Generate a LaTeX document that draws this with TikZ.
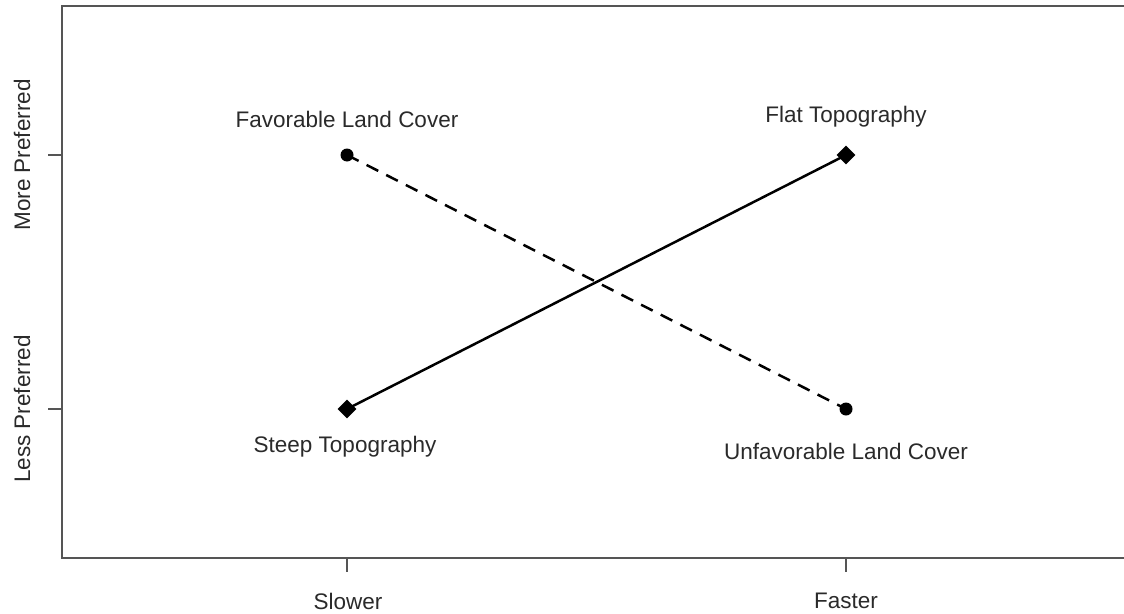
\documentclass[tikz,border=0pt]{standalone}
\usepackage{fontspec}
\setmainfont{Liberation Sans}
\usetikzlibrary{shapes.geometric}
\definecolor{axisgray}{HTML}{555555}
\definecolor{textgray}{HTML}{2A2A2A}
\tikzset{
  axisline/.style={draw=axisgray, line width=1.6pt},
  lbl/.style={text=textgray, font=\fontsize{22.5}{26}\selectfont, inner sep=0pt},
  dot/.style={circle, fill=black, minimum size=13pt, inner sep=0pt},
  dmd/.style={diamond, fill=black, minimum size=19pt, inner sep=0pt},
  dataline/.style={black, line width=2.5pt},
}
\begin{document}
\begin{tikzpicture}[x=1pt,y=-1pt]
\useasboundingbox (0,0) rectangle (1124,613);
\fill[white] (0,0) rectangle (1124,613);
% frame
\draw[axisline] (1126,6) -- (62,6) -- (62,558) -- (1126,558);
% ticks
\draw[axisline] (62,155) -- (48,155);
\draw[axisline] (62,409) -- (48,409);
\draw[axisline] (347,558) -- (347,572);
\draw[axisline] (846,558) -- (846,572);
% tick labels
\node[lbl, rotate=90] (more) at (22,155) {More Preferred};
\node[lbl, rotate=90] (less) at (22,409) {Less Preferred};
\node[lbl] (slow) at (348,601) {Slower};
\node[lbl] (fast) at (846,601) {Faster};
% points
\node[dot] (fav) at (347,155) {};
\node[dot] (unfav) at (846,409) {};
\node[dmd] (flat) at (846,155) {};
\node[dmd] (steep) at (347,409) {};
% lines
\draw[dataline, dash pattern=on 13pt off 9pt] (fav.center) -- (unfav.center);
\draw[dataline] (steep.center) -- (flat.center);
% labels
\node[lbl] (lfav) at (347,119) {Favorable Land Cover};
\node[lbl] (lflat) at (846,117) {Flat Topography};
\node[lbl] (lsteep) at (345,447) {Steep Topography};
\node[lbl] (lunfav) at (846,451) {Unfavorable Land Cover};
\end{tikzpicture}
\end{document}
